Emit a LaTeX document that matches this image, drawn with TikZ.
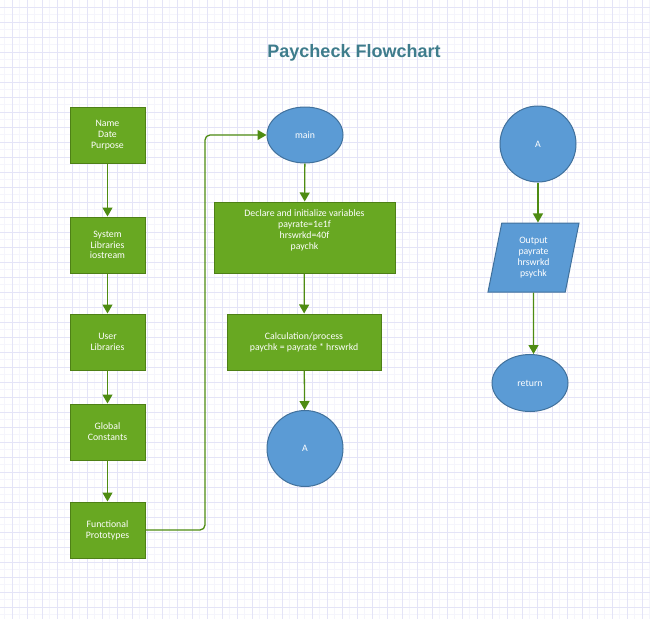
\documentclass[tikz,border=0pt]{standalone}
\usepackage{fontspec}
\newfontfamily\lblfont{Carlito}
\newfontfamily\ttlfont{Liberation Sans}
\usetikzlibrary{arrows.meta,shapes.geometric}
\definecolor{boxgreen}{RGB}{104,168,34}
\definecolor{boxedge}{RGB}{78,128,22}
\definecolor{flowline}{RGB}{78,140,18}
\definecolor{ovalblue}{RGB}{91,155,213}
\definecolor{ovaledge}{RGB}{65,113,156}
\definecolor{ttlcol}{RGB}{62,124,140}
\definecolor{gridmaj}{RGB}{228,228,247}
\definecolor{gridmin}{RGB}{245,245,252}

\begin{document}
\begin{tikzpicture}[x=1pt,y=-1pt,
  procbox/.style={draw=boxedge,fill=boxgreen,line width=1pt,text=white,align=center,
    font=\lblfont\fontsize{9.8}{10.8}\selectfont,minimum width=75pt,minimum height=56pt,inner sep=2pt},
  oval/.style={ellipse,draw=ovaledge,fill=ovalblue,line width=1pt,text=white,align=center,
    font=\lblfont\fontsize{9.8}{10.8}\selectfont,minimum width=76pt,minimum height=56pt,inner sep=1pt},
  iobox/.style={trapezium,trapezium left angle=72,trapezium right angle=108,trapezium stretches body,
    draw=ovaledge,fill=ovalblue,line width=1pt,text=white,align=center,
    font=\lblfont\fontsize{9.8}{10.8}\selectfont,minimum width=91pt,minimum height=69pt,inner sep=1pt},
  flow/.style={draw=flowline,line width=1.3pt,-{Triangle[width=10pt,length=9pt]}}]
\useasboundingbox (0,0) rectangle (650,619);
\fill[white] (0,0) rectangle (650,619);
% background grid
\foreach \i in {0,...,86} \draw[gridmin,line width=0.8pt] ({4.5+7.5*\i},0) -- ++(0,619);
\foreach \i in {0,...,82} \draw[gridmin,line width=0.8pt] (0,{-0.2+7.5*\i}) -- ++(650,0);
\foreach \i in {0,...,43} \draw[gridmaj,line width=0.8pt] ({12+15*\i},0) -- ++(0,619);
\foreach \i in {0,...,41} \draw[gridmaj,line width=0.8pt] (0,{7.3+15*\i}) -- ++(650,0);

\node[font=\ttlfont\bfseries\fontsize{18}{21}\selectfont,text=ttlcol] (title) at (354,53) {Paycheck Flowchart};

% left column
\node[procbox] (head) at (107.5,135) {Name\\Date\\Purpose};
\node[procbox] (syslib) at (107.5,245) {System\\Libraries\\iostream};
\node[procbox] (usrlib) at (107.5,342) {User\\Libraries};
\node[procbox] (glob) at (107.5,432) {Global\\Constants};
\node[procbox] (proto) at (107.5,530) {Functional\\Prototypes};

% middle column
\node[oval] (main) at (305,135) {main};
\node[procbox,minimum width=181pt,minimum height=71pt] (decl) at (304.5,237.5) {Declare and initialize variables\\payrate=1e1f\\hrswrkd=40f\\paychk\\[5pt]};
\node[procbox,minimum width=154pt] (calc) at (304,342) {Calculation/process\\paychk = payrate * hrswrkd};
\node[oval,minimum width=76pt,minimum height=76pt] (offa) at (305,448.5) {A};

% right column
\node[oval,minimum width=76pt,minimum height=76pt] (ona) at (538,144) {A};
\node[iobox] (out) at (533.5,257.5) {Output\\payrate\\hrswrkd\\psychk};
\node[oval,minimum width=76pt,minimum height=57pt] (ret) at (530,383) {return};

\draw[flow] (head) -- (syslib);
\draw[flow] (syslib) -- (usrlib);
\draw[flow] (usrlib) -- (glob);
\draw[flow] (glob) -- (proto);
\draw[flow,rounded corners=5pt] (proto.east) -- (205,530) -- (205,135) -- (main.west);
\draw[flow] (main) -- (decl);
\draw[flow] (decl) -- (calc);
\draw[flow] (calc) -- (offa);
\draw[flow] (ona) -- (out.north -| ona);
\draw[flow] (out) -- (out |- ret.north);
\end{tikzpicture}
\end{document}
